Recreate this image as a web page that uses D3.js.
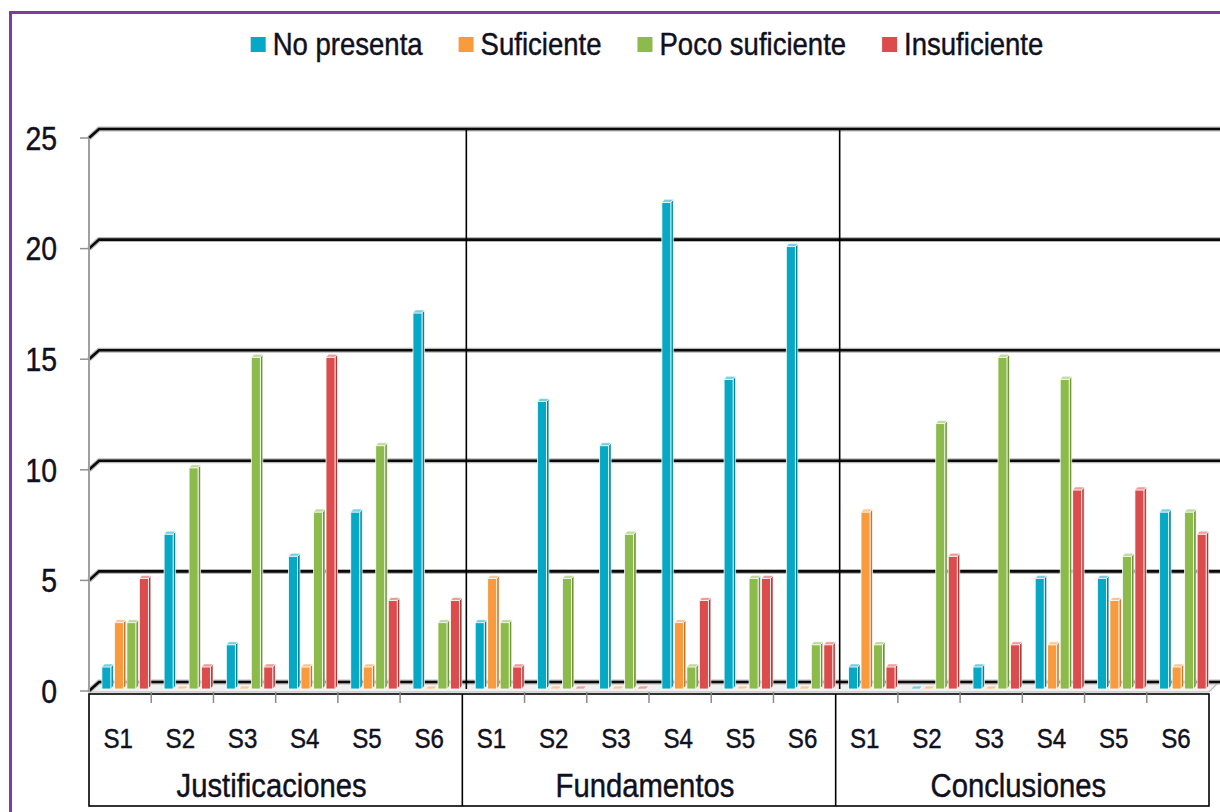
<!DOCTYPE html>
<html>
<head>
<meta charset="utf-8">
<script src="https://cdn.jsdelivr.net/npm/d3@7"></script>
<style>
  body { margin: 0; background: #fff; }
  svg { display: block; }
  text { font-family: "Liberation Sans", Arial, sans-serif; fill: #101020; stroke: #101020; stroke-width: 0.45px; }
</style>
</head>
<body>
<svg id="chart" width="1220" height="812"></svg>
<script>
// Data
var groups = ["Justificaciones", "Fundamentos", "Conclusiones"];
var sessions = ["S1", "S2", "S3", "S4", "S5", "S6"];
var series = ["No presenta", "Suficiente", "Poco suficiente", "Insuficiente"];
var colors = ["#05a9c6", "#f99a3c", "#8cbb4b", "#dd4c4d"];

// one value per group/session, in order Justificaciones S1..S6, Fundamentos S1..S6, Conclusiones S1..S6
var noPresenta     = [1, 7, 2, 6, 8, 17,   3, 13, 11, 22, 14, 20,   1, 0, 1, 5, 5, 8];
var suficiente     = [3, 0, 0, 1, 1, 0,    5, 0, 0, 3, 0, 0,        8, 0, 0, 2, 4, 1];
var pocoSuficiente = [3, 10, 15, 8, 11, 3, 3, 5, 7, 1, 5, 2,        2, 12, 15, 14, 6, 8];
var insuficiente   = [5, 1, 1, 15, 4, 4,   1, 0, 0, 4, 5, 2,        1, 6, 2, 9, 9, 7];
var yTicks = [0, 5, 10, 15, 20, 25];

var valuesBySeries = [noPresenta, suficiente, pocoSuficiente, insuficiente];

/**
 * Settings
 */
var width = 1220, height = 812;
var left = 89, right = 1209;
var wallX = 10, wallY = 7;      // depth of the back wall
var barShift = 5;               // bars sit half way in depth
var sideW = 2.5, capH = 3;      // 3d faces of a bar
var narrowFactor = 0.86;        // Arial Narrow look

var svg = d3.select("#chart");

var slots = [];
groups.forEach(function (g) {
  sessions.forEach(function (s) {
    slots.push({group: g, session: s, key: g + "|" + s});
  });
});

var y = d3.scaleLinear().domain([0, 25]).range([689, 136]);
var xGroup = d3.scaleBand().domain(groups).range([left, right]);
var x0 = d3.scaleBand().domain(slots.map(function (d) { return d.key; })).range([left, right]);
var x1 = d3.scaleBand().domain(series).range([0, x0.bandwidth()])
  .paddingInner(0.28).paddingOuter(0.63);

// squeeze text to look like a narrow font
function narrow(sel) {
  sel.each(function () {
    var w = this.getComputedTextLength();
    this.__narrowWidth = w * narrowFactor;
    d3.select(this).attr("textLength", this.__narrowWidth).attr("lengthAdjust", "spacingAndGlyphs");
  });
}

// Purple frame
svg.append("rect")
  .attr("x", 10.5).attr("y", 12.5)
  .attr("width", 1400).attr("height", 1000)
  .attr("fill", "none")
  .attr("stroke", "#7e3ba6")
  .attr("stroke-width", 3);

// Floor
var y0 = y(0);
svg.append("path")
  .attr("d", "M" + left + "," + (y0 + 3) + "L" + right + "," + (y0 + 3) +
    "L" + (right + wallX) + "," + (y0 - wallY) + "L" + (left + wallX) + "," + (y0 - wallY) + "Z")
  .attr("fill", "#f0f0f0")
  .attr("stroke", "#b4b4b4")
  .attr("stroke-width", 1.2);

// Gridlines on the back wall
var grid = svg.append("g");
yTicks.forEach(function (v) {
  var path = "M" + left + "," + (y(v) + 2) + "L" + (left + wallX) + "," + (y(v) - wallY) + "H" + (width + 5);
  grid.append("path").attr("d", path).attr("fill", "none")
    .attr("stroke", "#b8b8b8").attr("stroke-width", 5);
  grid.append("path").attr("d", path).attr("fill", "none")
    .attr("stroke", "#0a0a0a").attr("stroke-width", 2.6);
});

// Y axis line and ticks
svg.append("line")
  .attr("x1", left).attr("x2", left)
  .attr("y1", y(25) + 2).attr("y2", y0 + 3)
  .attr("stroke", "#a0a0a0").attr("stroke-width", 2);
svg.selectAll(".ytick").data(yTicks).enter().append("line")
  .attr("class", "ytick")
  .attr("x1", left - 9).attr("x2", left)
  .attr("y1", function (d) { return y(d) + 2; })
  .attr("y2", function (d) { return y(d) + 2; })
  .attr("stroke", "#909090").attr("stroke-width", 1.5);
svg.selectAll(".ylabel").data(yTicks).enter().append("text")
  .attr("class", "ylabel")
  .attr("x", 57)
  .attr("y", function (d) { return y(d) + 2; })
  .attr("dy", "0.36em")
  .attr("text-anchor", "end")
  .style("font-size", "33px")
  .text(function (d) { return d; })
  .call(narrow);

// Group separators in the plot
groups.slice(1).forEach(function (g) {
  svg.append("line")
    .attr("x1", xGroup(g) + barShift - 1).attr("x2", xGroup(g) + barShift - 1)
    .attr("y1", y(25) - wallY + 1).attr("y2", y0)
    .attr("stroke", "#000").attr("stroke-width", 1.6);
});

// Bars
var bars = svg.append("g");
slots.forEach(function (slot, i) {
  series.forEach(function (s, j) {
    var v = valuesBySeries[j][i];
    var c = d3.color(colors[j]);
    var bw = x1.bandwidth();
    var bx = x0(slot.key) + x1(s) + barShift;
    var top = y(v), base = y0;
    var g = bars.append("g");
    g.append("path")
      .attr("d", "M" + (bx + bw) + "," + top + "L" + (bx + bw + sideW) + "," + (top - capH) +
        "L" + (bx + bw + sideW) + "," + (base - capH) + "L" + (bx + bw) + "," + base + "Z")
      .attr("fill", c.darker(0.7))
      .attr("stroke", "#fff").attr("stroke-width", 0.7);
    g.append("rect")
      .attr("x", bx).attr("y", top)
      .attr("width", bw).attr("height", base - top)
      .attr("fill", c)
      .attr("stroke", "#fff").attr("stroke-width", 0.8);
    g.append("path")
      .attr("d", "M" + bx + "," + top + "L" + (bx + sideW) + "," + (top - capH) +
        "L" + (bx + bw + sideW) + "," + (top - capH) + "L" + (bx + bw) + "," + top + "Z")
      .attr("fill", d3.interpolateRgb(colors[j], "#fff")(0.45))
      .attr("stroke", "#fff").attr("stroke-width", 0.6);
  });
});

// Category table under the plot
var tableTop = 694, tableBottom = 806;
svg.append("rect")
  .attr("x", left).attr("y", tableTop)
  .attr("width", right - left).attr("height", tableBottom - tableTop)
  .attr("fill", "none").attr("stroke", "#000").attr("stroke-width", 1.6);
slots.forEach(function (slot, i) {
  if (i > 0 && slot.session !== "S1") {
    svg.append("line")
      .attr("x1", x0(slot.key)).attr("x2", x0(slot.key))
      .attr("y1", y0 + 3).attr("y2", tableTop + 9)
      .attr("stroke", "#8a8a8a").attr("stroke-width", 1.5);
  }
});
groups.slice(1).forEach(function (g) {
  svg.append("line")
    .attr("x1", xGroup(g)).attr("x2", xGroup(g))
    .attr("y1", tableTop).attr("y2", tableBottom)
    .attr("stroke", "#000").attr("stroke-width", 1.6);
});
svg.selectAll(".slabel").data(slots).enter().append("text")
  .attr("class", "slabel")
  .attr("x", function (d) { return x0(d.key) + x0.bandwidth() / 2 - 2; })
  .attr("y", 748)
  .attr("text-anchor", "middle")
  .style("font-size", "28px")
  .text(function (d) { return d.session; })
  .call(narrow);
svg.selectAll(".glabel").data(groups).enter().append("text")
  .attr("class", "glabel")
  .attr("x", function (d) { return xGroup(d) + xGroup.bandwidth() / 2 - 4; })
  .attr("y", 797)
  .attr("text-anchor", "middle")
  .style("font-size", "34px")
  .text(function (d) { return d; })
  .call(narrow);

// Legend
var legend = svg.append("g");
var lx = 0;
series.forEach(function (s, j) {
  var item = legend.append("g").attr("transform", "translate(" + lx + ",0)");
  item.append("rect")
    .attr("x", 0).attr("y", 37)
    .attr("width", 15).attr("height", 15)
    .attr("fill", colors[j]);
  var t = item.append("text")
    .attr("x", 22).attr("y", 55)
    .style("font-size", "32px")
    .text(s)
    .call(narrow);
  lx += 22 + t.node().__narrowWidth + 36;
});
var legendWidth = lx - 36;
legend.attr("transform", "translate(" + (647 - legendWidth / 2) + ",0)");
</script>
</body>
</html>
